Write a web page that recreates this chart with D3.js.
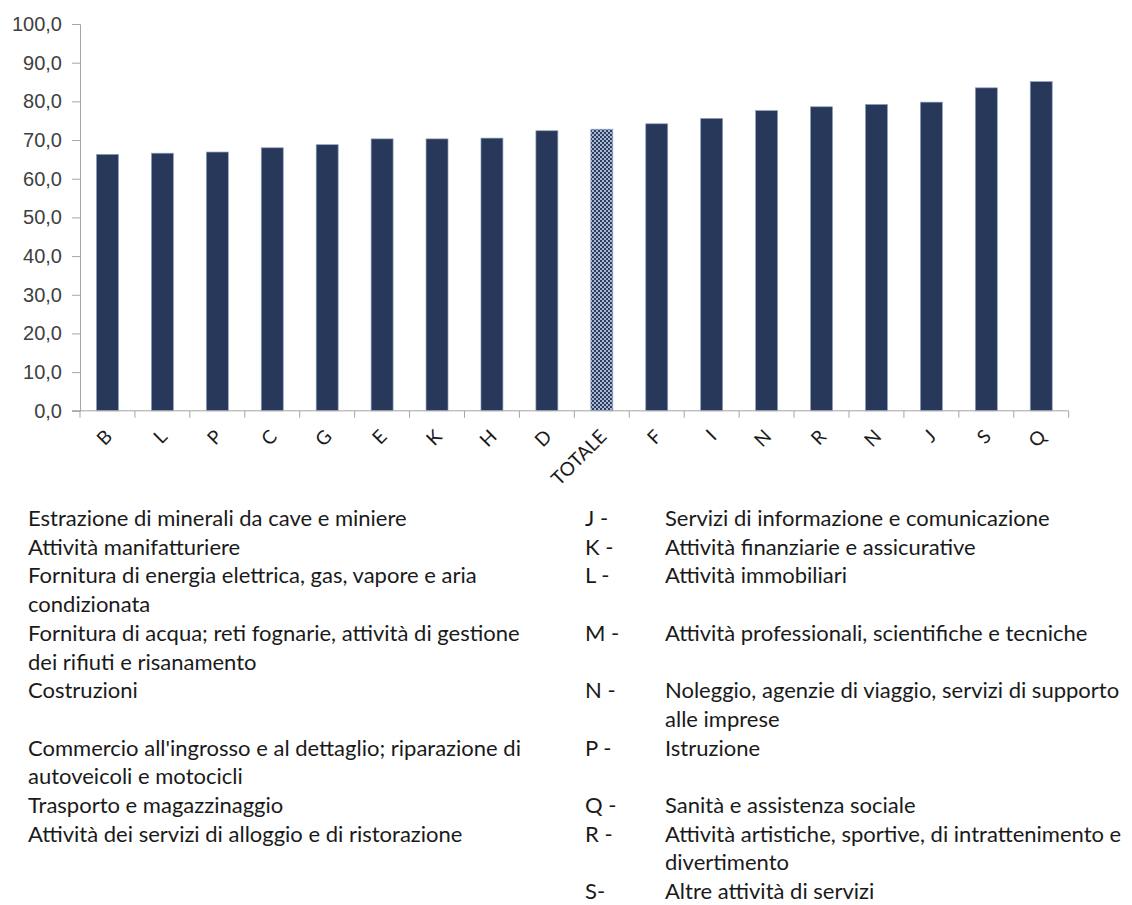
<!DOCTYPE html>
<html>
  <head>
    <meta charset="utf-8" />
    <style>
      body { margin: 0; background: #fff; }
      svg { display: block; font-family: Lato, "Noto Sans", sans-serif; }
    </style>
  </head>
  <body>
    <script src="https://d3js.org/d3.v7.min.js"></script>
    <script>
      // DATA
      const categories = ["B", "L", "P", "C", "G", "E", "K", "H", "D", "TOTALE",
                          "F", "I", "N", "R", "N ", "J", "S", "Q"];
      const values = [66.3, 66.6, 66.9, 68.0, 68.8, 70.3, 70.3, 70.5, 72.4, 72.8,
                      74.2, 75.6, 77.6, 78.6, 79.2, 79.8, 83.5, 85.1];
      const yTicks = [0, 10, 20, 30, 40, 50, 60, 70, 80, 90, 100];

      // legend rows (empty string = blank row)
      const legendLeft = [
        "Estrazione di minerali da cave e miniere",
        "Attività manifatturiere",
        "Fornitura di energia elettrica, gas, vapore e aria",
        "condizionata",
        "Fornitura di acqua; reti fognarie, attività di gestione",
        "dei rifiuti e risanamento",
        "Costruzioni",
        "",
        "Commercio all'ingrosso e al dettaglio; riparazione di",
        "autoveicoli e motocicli",
        "Trasporto e magazzinaggio",
        "Attività dei servizi di alloggio e di ristorazione"
      ];
      const legendRightCodes = ["J -", "K -", "L -", "", "M -", "", "N -", "", "P -", "",
                                "Q -", "R -", "", "S-"];
      const legendRightText = [
        "Servizi di informazione e comunicazione",
        "Attività finanziarie e assicurative",
        "Attività immobiliari",
        "",
        "Attività professionali, scientifiche e tecniche",
        "",
        "Noleggio, agenzie di viaggio, servizi di supporto",
        "alle imprese",
        "Istruzione",
        "",
        "Sanità e assistenza sociale",
        "Attività artistiche, sportive, di intrattenimento e",
        "divertimento",
        "Altre attività di servizi"
      ];

      const width = 1132, height = 905;
      const svg = d3.select("body").append("svg")
        .attr("width", width)
        .attr("height", height);

      // checkered fill for TOTALE
      const pat = svg.append("defs").append("pattern")
        .attr("id", "checker")
        .attr("patternUnits", "userSpaceOnUse")
        .attr("width", 4).attr("height", 4);
      pat.append("rect").attr("width", 4).attr("height", 4).attr("fill", "#a9b8d0");
      pat.append("rect").attr("width", 2).attr("height", 2).attr("fill", "#2b3d63");
      pat.append("rect").attr("x", 2).attr("y", 2).attr("width", 2).attr("height", 2).attr("fill", "#2b3d63");

      const x = d3.scaleBand()
        .domain(categories)
        .range([80, 1068.7])
        .paddingInner(0.6)
        .paddingOuter(0.3);

      const y = d3.scaleLinear().domain([0, 100]).range([410.8, 24]);

      const fmt = d3.formatLocale({ decimal: ",", thousands: "." }).format(".1f");

      // Y AXIS
      const yAxis = svg.append("g")
        .attr("transform", "translate(80,0)")
        .call(d3.axisLeft(y).tickValues(yTicks).tickFormat(fmt).tickSize(8).tickPadding(10));
      yAxis.select(".domain").attr("stroke", "#a6a6a6");
      yAxis.selectAll(".tick line").attr("stroke", "#a6a6a6");
      yAxis.selectAll("text")
        .attr("fill", "#404040")
        .style("font-size", "20px");

      // BARS
      svg.append("g")
        .selectAll("rect")
        .data(categories)
        .join("rect")
        .attr("x", (d) => x(d))
        .attr("y", (d, i) => y(values[i]))
        .attr("width", x.bandwidth())
        .attr("height", (d, i) => y(0) - y(values[i]))
        .attr("fill", (d) => (d === "TOTALE" ? "url(#checker)" : "#27385b"))
        .attr("stroke", "#8ea0bd")
        .attr("stroke-width", 0.7);

      // X AXIS
      const xg = svg.append("g").attr("transform", `translate(0,${y(0)})`);
      xg.append("line")
        .attr("x1", 72).attr("x2", x.range()[1])
        .attr("stroke", "#a6a6a6");
      const gap = (x.step() - x.bandwidth()) / 2;
      const bounds = categories.map((d) => x(d) - gap).concat([x.range()[1]]);
      xg.selectAll("line.tick")
        .data(bounds)
        .join("line")
        .attr("class", "tick")
        .attr("x1", (d) => d).attr("x2", (d) => d)
        .attr("y1", 0).attr("y2", 7)
        .attr("stroke", "#a6a6a6");

      xg.selectAll("text")
        .data(categories)
        .join("text")
        .attr("transform", (d) => `translate(${x(d) + x.bandwidth() / 2 + 6},${27}) rotate(-45)`)
        .attr("text-anchor", "end")
        .attr("fill", "#1a1a1a")
        .style("font-size", "19px")
        .text((d) => d.trim());

      // LEGEND
      const rowH = 28.7;
      const y0 = 526;
      const leg = svg.append("g").style("font-size", "22px").attr("fill", "#1a1a1a");
      leg.selectAll("text.left")
        .data(legendLeft)
        .join("text")
        .attr("class", "left")
        .attr("x", 28)
        .attr("y", (d, i) => y0 + i * rowH)
        .text((d) => d);
      leg.selectAll("text.code")
        .data(legendRightCodes)
        .join("text")
        .attr("class", "code")
        .attr("x", 585)
        .attr("y", (d, i) => y0 + i * rowH)
        .text((d) => d);
      leg.selectAll("text.right")
        .data(legendRightText)
        .join("text")
        .attr("class", "right")
        .attr("x", 665)
        .attr("y", (d, i) => y0 + i * rowH)
        .text((d) => d);
    </script>
  </body>
</html>
